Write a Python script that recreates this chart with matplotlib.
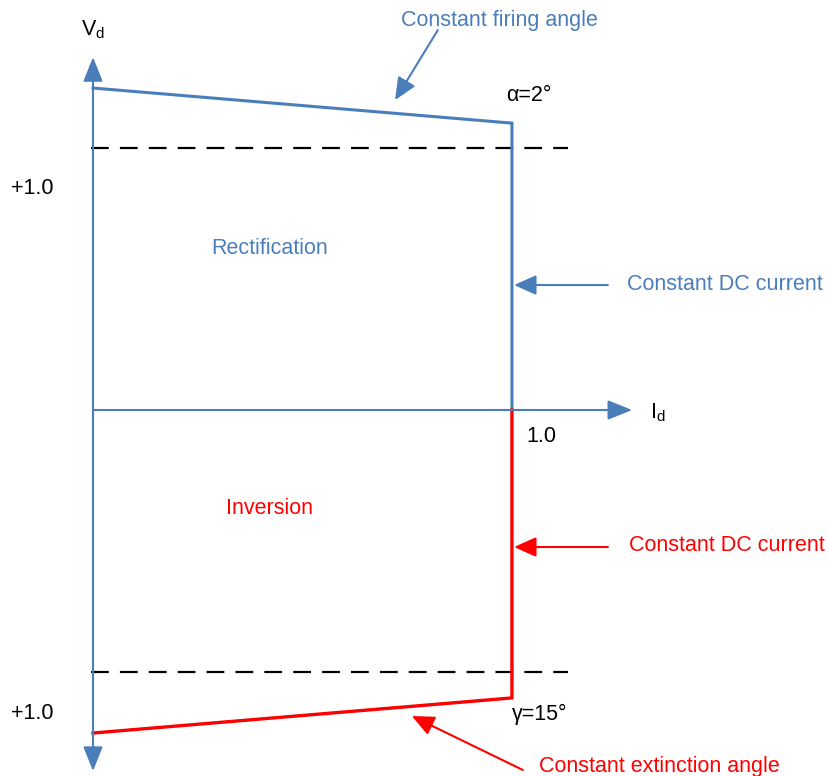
# Static characteristics of a DC link converter (rectification / inversion)

import matplotlib.pyplot as plt

plt.rcParams["font.family"] = ["Liberation Sans", "DejaVu Sans"]

blue = "#4a7ebb"
red = "#ff0000"

# per-unit data: Id along x, Vd along y
rect_id = [0.0, 1.0, 1.0]
rect_vd = [1.229, 1.095, 0.0]
inv_id = [1.0, 1.0, 0.0]
inv_vd = [0.0, -1.099, -1.233]
dash_id = [-0.005, 1.134]
dash_levels = [1.0, -1.0]
id_axis_end = 1.287
vd_axis_top = 1.347
vd_axis_bottom = -1.378

fig = plt.figure(figsize=(8.27, 7.76), dpi=100)
ax = fig.add_axes([0, 0, 1, 1])
ax.set_xlim(-0.222, 1.752)
ax.set_ylim(-1.397, 1.565)
ax.axis("off")

# axes with arrow heads
axis_head = dict(arrowstyle="-|>,head_length=0.75,head_width=0.3", color=blue,
                 lw=1.5, mutation_scale=20, shrinkA=0, shrinkB=0)
ax.annotate("", xy=(0, vd_axis_top), xytext=(0, 0), arrowprops=axis_head)
ax.annotate("", xy=(0, vd_axis_bottom), xytext=(0, 0), arrowprops=axis_head)
ax.annotate("", xy=(id_axis_end, 0), xytext=(0, 0), arrowprops=axis_head)

# dashed limits
for lev in dash_levels:
    ax.plot(dash_id, [lev, lev], color="black", lw=1.6, ls=(0, (8, 5)))

# characteristics
ax.plot(rect_id, rect_vd, color=blue, lw=2.2, solid_joinstyle="miter")
ax.plot(inv_id, inv_vd, color=red, lw=2.4, solid_joinstyle="miter")

fs = 15.5
ax.text(0.0, 1.452, "V$_\\mathregular{d}$", fontsize=fs, ha="center", va="center")
ax.text(1.33, -0.01, "I$_\\mathregular{d}$", fontsize=fs, ha="left", va="center")
ax.text(-0.145, 0.845, "+1.0", fontsize=fs, ha="center", va="center")
ax.text(-0.145, -1.16, "+1.0", fontsize=fs, ha="center", va="center")
ax.text(1.07, -0.1, "1.0", fontsize=fs, ha="center", va="center")
ax.text(1.04, 1.2, "α=2°", fontsize=fs, ha="center", va="center")
ax.text(1.065, -1.162, "γ=15°", fontsize=fs, ha="center", va="center")
ax.text(0.422, 0.618, "Rectification", fontsize=fs, color=blue, ha="center", va="center")
ax.text(0.422, -0.377, "Inversion", fontsize=fs, color=red, ha="center", va="center")

head = "-|>,head_length=0.85,head_width=0.38"


def pointer(tip, tail, color):
    ax.annotate("", xy=tip, xytext=tail,
                arrowprops=dict(arrowstyle=head, color=color, lw=1.5,
                                mutation_scale=16, shrinkA=0, shrinkB=0))


ax.text(0.971, 1.485, "Constant firing angle", fontsize=fs, color=blue, ha="center", va="center")
pointer((0.721, 1.183), (0.823, 1.450), blue)
ax.text(1.274, 0.478, "Constant DC current", fontsize=fs, color=blue, ha="left", va="center")
pointer((1.005, 0.477), (1.229, 0.477), blue)
ax.text(1.279, -0.517, "Constant DC current", fontsize=fs, color=red, ha="left", va="center")
pointer((1.005, -0.523), (1.229, -0.523), red)
ax.text(1.353, -1.36, "Constant extinction angle", fontsize=fs, color=red, ha="center", va="center")
pointer((0.761, -1.168), (1.026, -1.374), red)

fig.savefig("out.png", dpi=100)
